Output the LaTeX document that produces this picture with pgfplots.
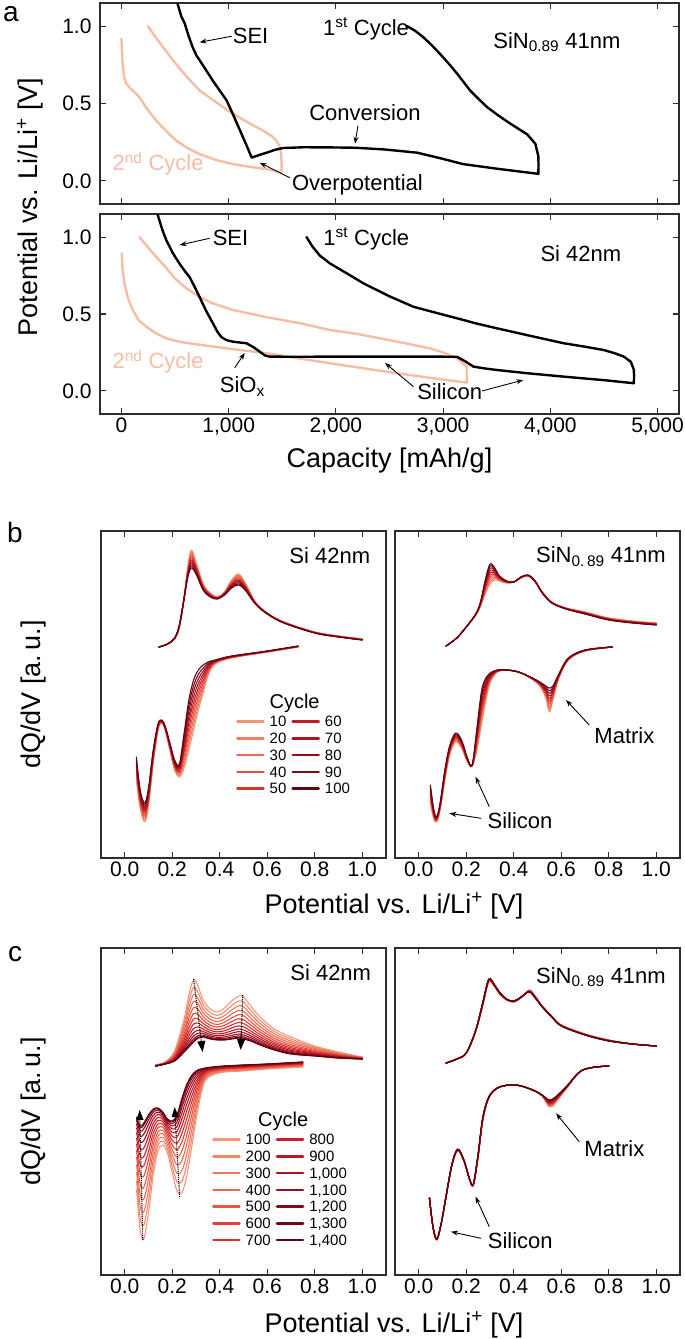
\documentclass[border=0pt]{standalone}
\usepackage{fontspec}
\setmainfont{Liberation Sans}
\usepackage{pgfplots}
\pgfplotsset{compat=1.18}
\usepackage{pgfplotstable}
\usetikzlibrary{arrows.meta}

\newcommand{\fs}[1]{\fontsize{#1}{#1}\selectfont}
\definecolor{frame}{RGB}{45,45,45}
\definecolor{sec}{RGB}{245,188,166}
% panel b colours (cycles 10..100)
\definecolor{bcol1}{RGB}{240,150,120}
\definecolor{bcol2}{RGB}{238,128,100}
\definecolor{bcol3}{RGB}{236,108,82}
\definecolor{bcol4}{RGB}{230,80,62}
\definecolor{bcol5}{RGB}{222,52,44}
\definecolor{bcol6}{RGB}{195,28,38}
\definecolor{bcol7}{RGB}{172,20,34}
\definecolor{bcol8}{RGB}{148,14,30}
\definecolor{bcol9}{RGB}{124,8,24}
\definecolor{bcol10}{RGB}{100,4,18}
% panel c colours (cycles 100..1400)
\definecolor{ccol1}{RGB}{242,152,122}
\definecolor{ccol2}{RGB}{240,136,108}
\definecolor{ccol3}{RGB}{238,120,94}
\definecolor{ccol4}{RGB}{235,104,80}
\definecolor{ccol5}{RGB}{232,86,66}
\definecolor{ccol6}{RGB}{226,66,54}
\definecolor{ccol7}{RGB}{218,46,44}
\definecolor{ccol8}{RGB}{200,32,40}
\definecolor{ccol9}{RGB}{185,24,36}
\definecolor{ccol10}{RGB}{168,18,33}
\definecolor{ccol11}{RGB}{150,14,30}
\definecolor{ccol12}{RGB}{132,10,26}
\definecolor{ccol13}{RGB}{114,6,22}
\definecolor{ccol14}{RGB}{95,2,16}

\tikzset{
  ann/.style={-{Stealth[length=7pt,width=5pt]}, line width=0.9pt, black},
  lab/.style={font=\fs{22}, inner sep=0pt},
}
\pgfplotsset{
  base/.style={scale only axis, axis line style={draw=frame, line width=1.1pt},
    tick style={draw=frame, line width=1.1pt}, major tick length=6pt, tick align=inside,
    tick label style={font=\fs{21}, text=black}, /pgf/number format/assume math mode=true,
    every axis plot/.append style={line join=round, line cap=round}},
  capax/.style={base, width=579pt, xmin=-200, xmax=5200, ymin=-0.15, ymax=1.15,
    xtick={0,1000,2000,3000,4000,5000}, ytick={0,0.5,1}, yticklabels={0.0,0.5,1.0},
    yticklabel style={xshift=-5pt}},
  dqax/.style={base, width=285pt, height=327pt, xmin=-0.1, xmax=1.1, ymin=0, ymax=327,
    xtick={0,0.2,0.4,0.6,0.8,1.0}, xticklabels={0.0,0.2,0.4,0.6,0.8,1.0}, ytick=\empty},
  leg/.style={transpose legend, legend cell align=left,
    legend image code/.code={\draw[##1, line width=2.6pt] (0pt,0pt) -- (26pt,0pt);},
    legend style={draw=none, fill=none, inner sep=0pt, font=\fs{15}, row sep=5.6pt,
      column sep=5pt,
      nodes={inner sep=0pt, text height=10.7pt, text depth=0.4pt}}},
}

% ---------- panel b data ----------
\pgfplotstableread{
V c1 c2 c3 c4 c5 c6 c7 c8 c9 c10
0.144 211 211 211 211 211 211 211 211 211 211
0.18 214 214 214 214 214 214 214 214 214 214
0.21 219 219.1 219.2 219.3 219.4 219.6 219.7 219.8 219.9 220
0.23 231 231.2 231.4 231.7 231.9 232.1 232.3 232.6 232.8 233
0.25 260 260 260 260 260 260 260 260 260 260
0.265 290 288.9 287.8 286.7 285.6 284.4 283.3 282.2 281.1 280
0.28 308 306 304 302 300 298 296 294 292 290
0.30 296 294.7 293.3 292 290.7 289.3 288 286.7 285.3 284
0.33 274 273.3 272.7 272 271.3 270.7 270 269.3 268.7 268
0.36 265 264.6 264.1 263.7 263.2 262.8 262.3 261.9 261.4 261
0.39 261 260.8 260.6 260.3 260.1 259.9 259.7 259.4 259.2 259
0.42 266 265.7 265.3 265 264.7 264.3 264 263.7 263.3 263
0.45 278 277.1 276.2 275.3 274.4 273.6 272.7 271.8 270.9 270
0.48 284 282.8 281.6 280.3 279.1 277.9 276.7 275.4 274.2 273
0.51 274 273.2 272.4 271.7 270.9 270.1 269.3 268.6 267.8 267
0.55 256 255.8 255.6 255.3 255.1 254.9 254.7 254.4 254.2 254
0.60 245 244.9 244.8 244.7 244.6 244.4 244.3 244.2 244.1 244
0.67 236 235.9 235.8 235.7 235.6 235.4 235.3 235.2 235.1 235
0.80 226 225.9 225.8 225.7 225.6 225.4 225.3 225.2 225.1 225
0.90 222 221.9 221.8 221.7 221.6 221.4 221.3 221.2 221.1 221
1.00 219 218.9 218.8 218.7 218.6 218.4 218.3 218.2 218.1 218
}\bLu
\pgfplotstableread{
V c1 c2 c3 c4 c5 c6 c7 c8 c9 c10
0.049 78 80.6 83.1 85.7 88.2 90.8 93.3 95.9 98.4 101
0.065 50 52 54 56 58 60 62 64 66 68
0.084 36 38.1 40.2 42.3 44.4 46.6 48.7 50.8 52.9 55
0.10 52 54 56 58 60 62 64 66 68 70
0.12 95 96.4 97.9 99.3 100.8 102.2 103.7 105.1 106.6 108
0.14 128 128.7 129.3 130 130.7 131.3 132 132.7 133.3 134
0.155 135 135.3 135.7 136 136.3 136.7 137 137.3 137.7 138
0.17 128 128.4 128.9 129.3 129.8 130.2 130.7 131.1 131.6 132
0.19 108 108.8 109.6 110.3 111.1 111.9 112.7 113.4 114.2 115
0.21 88 89.1 90.2 91.3 92.4 93.6 94.7 95.8 96.9 98
0.23 81 82.4 83.9 85.3 86.8 88.2 89.7 91.1 92.6 94
0.25 90 93.9 97.8 101.7 105.6 109.4 113.3 117.2 121.1 125
0.27 108 113.6 119.1 124.7 130.2 135.8 141.3 146.9 152.4 158
0.29 128 133.6 139.1 144.7 150.2 155.8 161.3 166.9 172.4 178
0.31 148 152.4 156.9 161.3 165.8 170.2 174.7 179.1 183.6 188
0.33 165 168.1 171.2 174.3 177.4 180.6 183.7 186.8 189.9 193
0.35 182 183.6 185.1 186.7 188.2 189.8 191.3 192.9 194.4 196
0.38 194 194.4 194.9 195.3 195.8 196.2 196.7 197.1 197.6 198
0.45 200 200.2 200.4 200.7 200.9 201.1 201.3 201.6 201.8 202
0.60 206 206.1 206.2 206.3 206.4 206.6 206.7 206.8 206.9 207
0.73 211 211.1 211.2 211.3 211.4 211.6 211.7 211.8 211.9 212
}\bLl
\pgfplotstableread{
V c1 c2 c3 c4 c5 c6 c7 c8 c9 c10
0.115 212 212 212 212 212 212 212 212 212 212
0.16 220 220 220 220 220 220 220 220 220 220
0.20 231 231 231 231 231 231 231 231 231 231
0.24 243 243.1 243.2 243.3 243.4 243.6 243.7 243.8 243.9 244
0.26 252 252.4 252.9 253.3 253.8 254.2 254.7 255.1 255.6 256
0.28 264 265.6 267.1 268.7 270.2 271.8 273.3 274.9 276.4 278
0.30 274 276.2 278.4 280.7 282.9 285.1 287.3 289.6 291.8 294
0.32 278 279.3 280.7 282 283.3 284.7 286 287.3 288.7 290
0.34 277 277.6 278.1 278.7 279.2 279.8 280.3 280.9 281.4 282
0.37 275 275.2 275.4 275.7 275.9 276.1 276.3 276.6 276.8 277
0.40 276 276 276 276 276 276 276 276 276 276
0.43 280 280.1 280.2 280.3 280.4 280.6 280.7 280.8 280.9 281
0.46 282 282.1 282.2 282.3 282.4 282.6 282.7 282.8 282.9 283
0.49 276 276.1 276.2 276.3 276.4 276.6 276.7 276.8 276.9 277
0.52 266 265.9 265.8 265.7 265.6 265.4 265.3 265.2 265.1 265
0.56 256 255.9 255.8 255.7 255.6 255.4 255.3 255.2 255.1 255
0.62 250 249.9 249.8 249.7 249.6 249.4 249.3 249.2 249.1 249
0.70 246 245.8 245.6 245.3 245.1 244.9 244.7 244.4 244.2 244
0.80 240 239.8 239.6 239.3 239.1 238.9 238.7 238.4 238.2 238
0.90 237 236.8 236.6 236.3 236.1 235.9 235.7 235.4 235.2 235
1.00 235 234.8 234.6 234.3 234.1 233.9 233.7 233.4 233.2 233
}\bRu
\pgfplotstableread{
V c1 c2 c3 c4 c5 c6 c7 c8 c9 c10
0.049 55 57 59 61 63 65 67 69 71 73
0.062 40 41.1 42.2 43.3 44.4 45.6 46.7 47.8 48.9 50
0.075 36 36.6 37.1 37.7 38.2 38.8 39.3 39.9 40.4 41
0.09 48 48.8 49.6 50.3 51.1 51.9 52.7 53.4 54.2 55
0.11 78 79.1 80.2 81.3 82.4 83.6 84.7 85.8 86.9 88
0.13 103 104 105 106 107 108 109 110 111 112
0.155 116 117 118 119 120 121 122 123 124 125
0.18 110 110.9 111.8 112.7 113.6 114.4 115.3 116.2 117.1 118
0.205 96 96.4 96.9 97.3 97.8 98.2 98.7 99.1 99.6 100
0.225 92 92.1 92.2 92.3 92.4 92.6 92.7 92.8 92.9 93
0.245 108 110.4 112.9 115.3 117.8 120.2 122.7 125.1 127.6 130
0.265 135 138.7 142.3 146 149.7 153.3 157 160.7 164.3 168
0.285 160 162.3 164.7 167 169.3 171.7 174 176.3 178.7 181
0.30 175 176.1 177.2 178.3 179.4 180.6 181.7 182.8 183.9 185
0.33 186 186.2 186.4 186.7 186.9 187.1 187.3 187.6 187.8 188
0.37 188 188 188 188 188 188 188 188 188 188
0.42 186 186 186 186 186 186 186 186 186 186
0.47 180 180.1 180.2 180.3 180.4 180.6 180.7 180.8 180.9 181
0.51 172 172.4 172.9 173.3 173.8 174.2 174.7 175.1 175.6 176
0.535 160 161.3 162.7 164 165.3 166.7 168 169.3 170.7 172
0.55 146 148.7 151.3 154 156.7 159.3 162 164.7 167.3 170
0.565 158 159.6 161.1 162.7 164.2 165.8 167.3 168.9 170.4 172
0.59 180 180.4 180.9 181.3 181.8 182.2 182.7 183.1 183.6 184
0.63 198 198.2 198.4 198.7 198.9 199.1 199.3 199.6 199.8 200
0.70 207 207.1 207.2 207.3 207.4 207.6 207.7 207.8 207.9 208
0.815 211 211 211 211 211 211 211 211 211 211
}\bRl

% ---------- panel c data ----------
\pgfplotstableread{
V c1 c2 c3 c4 c5 c6 c7 c8 c9 c10 c11 c12 c13 c14
0.13 210 210 210 210 210 209.5 209.5 209 209 209 209 209 209 209
0.17 213 212.8 212.5 212.3 212.1 211.9 211.7 211.6 211.4 211.3 211.2 211.1 211 211
0.21 224 222.8 221.7 220.6 219.5 218.6 217.7 216.9 216.2 215.5 215 214.5 214.2 214
0.25 256 252 248.3 244.7 241.3 238.1 235.2 232.6 230.2 228 226.2 224.6 223.6 223
0.27 280 273.8 267.8 262.2 256.9 251.9 247.3 243.1 239.3 235.9 233 230.6 228.9 228
0.29 295 287.6 280.5 273.7 267.4 261.5 256 251 246.5 242.4 239 236.1 234.1 233
0.31 288 281.9 276.1 270.5 265.3 260.4 255.9 251.8 248.1 244.8 241.9 239.5 237.9 237
0.33 275 270.6 266.3 262.3 258.5 255 251.7 248.7 246 243.6 241.6 239.8 238.6 238
0.36 266 262.4 259 255.7 252.6 249.8 247.1 244.7 242.5 240.6 238.9 237.5 236.5 236
0.39 263 259.6 256.4 253.4 250.5 247.9 245.4 243.1 241.1 239.3 237.7 236.4 235.5 235
0.42 267 263.2 259.5 256 252.8 249.7 246.9 244.3 241.9 239.9 238.1 236.6 235.5 235
0.45 274 269.4 265.1 261 257.1 253.4 250.1 247 244.2 241.8 239.6 237.9 236.6 236
0.48 279 274 269.2 264.6 260.3 256.3 252.6 249.2 246.1 243.4 241 239.1 237.7 237
0.50 278 273 268.2 263.6 259.3 255.3 251.6 248.2 245.1 242.4 240 238.1 236.7 236
0.53 269 264.8 260.8 257 253.4 250.1 247 244.1 241.6 239.3 237.4 235.7 234.6 234
0.57 258 254.6 251.4 248.4 245.5 242.9 240.4 238.1 236.1 234.3 232.7 231.4 230.5 230
0.63 246 243.5 241.1 238.8 236.7 234.6 232.8 231.1 229.6 228.2 227 226 225.4 225
0.70 238 236 234 232.2 230.4 228.8 227.3 225.9 224.7 223.6 222.6 221.8 221.3 221
0.80 229 227.8 226.7 225.6 224.5 223.6 222.7 221.9 221.2 220.5 220 219.5 219.2 219
0.90 223 222.3 221.6 220.9 220.3 219.8 219.2 218.7 218.3 217.9 217.6 217.3 217.1 217
1.00 218 217.8 217.5 217.3 217.1 216.9 216.7 216.6 216.4 216.3 216.2 216.1 216 216
}\cLu
\pgfplotstableread{
V c1 c2 c3 c4 c5 c6 c7 c8 c9 c10 c11 c12 c13 c14
0.05 85 93.8 102.1 110 117.5 124.5 130.9 136.8 142.2 146.9 151 154.4 156.8 158
0.065 45 57.5 69.3 80.7 91.3 101.3 110.4 118.8 126.4 133.2 139 143.8 147.2 149
0.08 36 49.9 63.1 75.8 87.6 98.8 109 118.4 126.8 134.4 140.9 146.2 150 152
0.10 62 73.8 84.9 95.6 105.6 115 123.6 131.6 138.7 145.1 150.6 155.1 158.3 160
0.12 100 107.9 115.4 122.6 129.4 135.7 141.5 146.9 151.7 156 159.7 162.7 164.9 166
0.14 124 129.2 134.1 138.7 143.1 147.3 151 154.5 157.7 160.5 162.9 164.9 166.3 167
0.16 130 134 137.7 141.3 144.7 147.9 150.8 153.4 155.8 158 159.8 161.4 162.4 163
0.18 122 126.1 130 133.7 137.1 140.4 143.4 146.1 148.6 150.8 152.7 154.3 155.4 156
0.20 102 108.2 114.2 119.8 125.1 130.1 134.7 138.9 142.7 146.1 149 151.4 153.1 154
0.22 84 93.1 101.8 110.1 117.8 125.1 131.8 138 143.5 148.4 152.7 156.2 158.7 160
0.24 82 93.3 104 114.2 123.8 132.9 141.1 148.7 155.6 161.7 167 171.3 174.4 176
0.26 98 109 119.5 129.6 138.9 147.8 155.9 163.3 170 176 181.2 185.4 188.4 190
0.28 125 133.9 142.3 150.4 157.9 165 171.5 177.5 182.9 187.8 191.9 195.3 197.7 199
0.30 155 160.9 166.5 171.8 176.8 181.5 185.8 189.8 193.4 196.6 199.3 201.6 203.2 204
0.32 180 183.1 186.1 188.9 191.6 194.1 196.4 198.5 200.4 202 203.5 204.7 205.6 206
0.34 195 196.4 197.8 199.1 200.3 201.5 202.5 203.5 204.4 205.2 205.8 206.4 206.8 207
0.37 200 201 201.9 202.7 203.6 204.3 205 205.7 206.3 206.8 207.2 207.6 207.9 208
0.42 203 203.7 204.4 205.1 205.7 206.2 206.8 207.3 207.7 208.1 208.4 208.7 208.9 209
0.50 204 204.7 205.4 206.1 206.7 207.2 207.8 208.3 208.7 209.1 209.4 209.7 209.9 210
0.60 206 206.6 207.2 207.7 208.2 208.7 209.1 209.6 209.9 210.2 210.5 210.8 210.9 211
0.75 208 208.6 209.2 209.7 210.2 210.7 211.1 211.6 211.9 212.2 212.5 212.8 212.9 213
}\cLl
\pgfplotstableread{
V c1 c2 c3 c4 c5 c6 c7 c8 c9 c10 c11 c12 c13 c14
0.115 212 212 212 212 212 212 212 212 212 212 212 212 212 212
0.16 216 216 216 216 216 216 216 216 216 216 216 216 216 216
0.20 222 222 222 222 222 222 222 222 222 222 222 222 222 222
0.24 244 244.1 244.2 244.2 244.3 244.4 244.5 244.5 244.6 244.7 244.8 244.8 244.9 245
0.27 270 270.2 270.5 270.7 270.9 271.2 271.4 271.6 271.8 272.1 272.3 272.5 272.8 273
0.295 293 293.2 293.5 293.7 293.9 294.2 294.4 294.6 294.8 295.1 295.3 295.5 295.8 296
0.32 288 288.2 288.3 288.5 288.6 288.8 288.9 289.1 289.2 289.4 289.5 289.7 289.8 290
0.34 281 281.2 281.3 281.5 281.6 281.8 281.9 282.1 282.2 282.4 282.5 282.7 282.8 283
0.37 275 275.1 275.2 275.2 275.3 275.4 275.5 275.5 275.6 275.7 275.8 275.8 275.9 276
0.40 273 273.1 273.2 273.2 273.3 273.4 273.5 273.5 273.6 273.7 273.8 273.8 273.9 274
0.43 277 277.1 277.2 277.2 277.3 277.4 277.5 277.5 277.6 277.7 277.8 277.8 277.9 278
0.465 285 284.8 284.7 284.5 284.4 284.2 284.1 283.9 283.8 283.6 283.5 283.3 283.2 283
0.49 279 278.8 278.7 278.5 278.4 278.2 278.1 277.9 277.8 277.6 277.5 277.3 277.2 277
0.52 269 268.9 268.8 268.8 268.7 268.6 268.5 268.5 268.4 268.3 268.2 268.2 268.1 268
0.56 259 258.9 258.8 258.8 258.7 258.6 258.5 258.5 258.4 258.3 258.2 258.2 258.1 258
0.60 250 249.9 249.8 249.8 249.7 249.6 249.5 249.5 249.4 249.3 249.2 249.2 249.1 249
0.70 241 240.9 240.8 240.8 240.7 240.6 240.5 240.5 240.4 240.3 240.2 240.2 240.1 240
0.80 235 234.9 234.8 234.8 234.7 234.6 234.5 234.5 234.4 234.3 234.2 234.2 234.1 234
0.90 231 231 231 231 231 231 231 231 231 231 231 231 231 231
1.00 229 229 229 229 229 229 229 229 229 229 229 229 229 229
}\cRu
\pgfplotstableread{
V c1 c2 c3 c4 c5 c6 c7 c8 c9 c10 c11 c12 c13 c14
0.045 77 77 77 77 77 77 77 77 77 77 77 77 77 77
0.06 48 48 48 48 48 48 48 48 48 48 48 48 48 48
0.076 35 35.1 35.2 35.2 35.3 35.4 35.5 35.5 35.6 35.7 35.8 35.8 35.9 36
0.095 52 52 52 52 52 52 52 52 52 52 52 52 52 52
0.115 78 78.1 78.2 78.2 78.3 78.4 78.5 78.5 78.6 78.7 78.8 78.8 78.9 79
0.14 110 110.1 110.2 110.2 110.3 110.4 110.5 110.5 110.6 110.7 110.8 110.8 110.9 111
0.164 124 124.2 124.3 124.5 124.6 124.8 124.9 125.1 125.2 125.4 125.5 125.7 125.8 126
0.19 114 114.1 114.2 114.2 114.3 114.4 114.5 114.5 114.6 114.7 114.8 114.8 114.9 115
0.215 95 95 95 95 95 95 95 95 95 95 95 95 95 95
0.23 90 90.1 90.2 90.2 90.3 90.4 90.5 90.5 90.6 90.7 90.8 90.8 90.9 91
0.25 118 118.2 118.5 118.7 118.9 119.2 119.4 119.6 119.8 120.1 120.3 120.5 120.8 121
0.27 155 155.2 155.5 155.7 155.9 156.2 156.4 156.6 156.8 157.1 157.3 157.5 157.8 158
0.297 178 178.1 178.2 178.2 178.3 178.4 178.5 178.5 178.6 178.7 178.8 178.8 178.9 179
0.34 188 188 188 188 188 188 188 188 188 188 188 188 188 188
0.41 190 190 190 190 190 190 190 190 190 190 190 190 190 190
0.48 185 185 185 185 185 185 185 185 185 185 185 185 185 185
0.52 179 179.1 179.2 179.2 179.3 179.4 179.5 179.5 179.6 179.7 179.8 179.8 179.9 180
0.55 168 168.5 169.1 169.6 170.2 170.7 171.2 171.8 172.3 172.8 173.4 173.9 174.5 175
0.575 172 172.5 172.9 173.4 173.8 174.3 174.8 175.2 175.7 176.2 176.6 177.1 177.5 178
0.62 186 186.2 186.3 186.5 186.6 186.8 186.9 187.1 187.2 187.4 187.5 187.7 187.8 188
0.69 205 205 205 205 205 205 205 205 205 205 205 205 205 205
0.80 209 209 209 209 209 209 209 209 209 209 209 209 209 209
}\cRl

\begin{document}
\begin{tikzpicture}
\useasboundingbox (0pt,0pt) rectangle (685pt,-1339pt);

% ================= panel a, top (SiN) =================
\begin{axis}[capax, at={(100pt,-3pt)}, anchor=north west, height=201pt, xticklabels={}]
\addplot[sec, line width=2.4pt] coordinates {(0,0.92) (8,0.78) (25,0.67) (44,0.63) (80,0.60) (120,0.575) (168,0.54) (250,0.455) (324,0.39) (420,0.32) (511,0.26) (620,0.21) (729,0.173) (880,0.135) (1040,0.108) (1200,0.09) (1355,0.075) (1450,0.062) (1492,0.054) (1494,0.10) (1490,0.18) (1470,0.23) (1445,0.26) (1400,0.29) (1321,0.325) (1200,0.37) (1040,0.433) (900,0.50) (729,0.584) (600,0.68) (480,0.78) (360,0.89) (246,1.0)};
\addplot[black, line width=2.4pt] coordinates {(500,1.20) (560,1.06) (589,1.02) (625,0.94) (664,0.864) (700,0.81) (729,0.78) (790,0.715) (850,0.65) (915,0.585) (981,0.52) (1040,0.43) (1103,0.33) (1160,0.24) (1215,0.15) (1290,0.168) (1355,0.182) (1430,0.20) (1505,0.212) (1700,0.217) (1944,0.216) (2178,0.214) (2450,0.203) (2757,0.182) (2980,0.145) (3187,0.108) (3505,0.078) (3888,0.045) (3890,0.10) (3888,0.16) (3860,0.24) (3785,0.30) (3626,0.37) (3520,0.42) (3411,0.476) (3330,0.53) (3252,0.584) (3131,0.693) (3050,0.76) (2972,0.82) (2890,0.88) (2813,0.93) (2740,0.97) (2664,1.0)};
\node[lab, anchor=base west] at (1037,0.89) {SEI};
\draw[ann] (1028,0.935) -- (729,0.896);
\node[lab, anchor=base west] at (1879,0.94) {1\textsuperscript{st} Cycle};
\node[lab, anchor=base west] at (3467,0.857) {SiN\textsubscript{0.89} 41nm};
\node[lab, anchor=base] at (2271,0.39) {Conversion};
\draw[ann] (2206,0.357) -- (2178,0.24);
\node[lab, anchor=base] at (2201,-0.065) {Overpotential};
\draw[ann] (1570,0.02) -- (1290,0.117);
\node[lab, anchor=base west, text=sec] at (-84,0.065) {2\textsuperscript{nd} Cycle};
\end{axis}

% ================= panel a, bottom (Si) =================
\begin{axis}[capax, at={(100pt,-214pt)}, anchor=north west, height=200pt,
  xticklabels={0,{1,000},{2,000},{3,000},{4,000},{5,000}}]
\addplot[sec, line width=2.4pt] coordinates {(3,0.894) (10,0.79) (28,0.70) (60,0.605) (106,0.526) (160,0.46) (231,0.418) (320,0.375) (418,0.342) (550,0.318) (729,0.30) (1000,0.275) (1352,0.245) (1650,0.212) (1944,0.18) (2250,0.148) (2567,0.115) (2900,0.083) (3221,0.054) (3223,0.10) (3221,0.157) (3128,0.212) (3000,0.25) (2879,0.277) (2500,0.33) (2200,0.37) (1944,0.396) (1664,0.44) (1350,0.48) (1040,0.526) (850,0.57) (729,0.61) (600,0.67) (500,0.73) (418,0.80) (300,0.89) (168,1.0)};
\addplot[black, line width=2.4pt] coordinates {(310,1.25) (339,1.143) (380,1.05) (418,0.98) (480,0.895) (542,0.827) (590,0.78) (636,0.74) (680,0.68) (729,0.61) (790,0.52) (853,0.44) (895,0.385) (932,0.35) (980,0.33) (1040,0.32) (1100,0.315) (1165,0.31) (1230,0.285) (1290,0.255) (1340,0.23) (1383,0.223) (1600,0.222) (2000,0.223) (2500,0.223) (2900,0.223) (3128,0.222) (3200,0.195) (3283,0.158) (3400,0.145) (3502,0.136) (3800,0.114) (4124,0.093) (4500,0.07) (4779,0.05) (4781,0.10) (4778,0.14) (4750,0.19) (4685,0.223) (4600,0.245) (4498,0.266) (4300,0.29) (4124,0.31) (3800,0.36) (3502,0.407) (3300,0.44) (3190,0.461) (2950,0.505) (2723,0.547) (2500,0.615) (2255,0.70) (2100,0.765) (1944,0.829) (1850,0.88) (1780,0.94) (1726,1.0)};
\node[lab, anchor=base west] at (850,0.948) {SEI};
\draw[ann] (822,0.992) -- (542,0.948);
\node[lab, anchor=base west] at (1881,0.948) {1\textsuperscript{st} Cycle};
\node[lab, anchor=base west] at (3907,0.84) {Si 42nm};
\node[lab, anchor=base west, text=sec] at (-84,0.143) {2\textsuperscript{nd} Cycle};
\node[lab, anchor=base west] at (916,-0.013) {SiO\textsubscript{x}};
\draw[ann] (1056,0.15) -- (1150,0.247);
\node[lab, anchor=base west] at (2757,-0.058) {Silicon};
\draw[ann] (2723,0.028) -- (2458,0.182);
\draw[ann] (3364,0.0) -- (3748,0.071);
\end{axis}

% ================= panel b, left (Si) =================
\begin{axis}[dqax, leg, legend columns=5, at={(101pt,-531pt)}, anchor=north west,
  legend style={at={(axis cs:0.468,142)}, anchor=north west}]
\pgfplotsinvokeforeach{1,...,10}{
  \addplot[smooth, tension=0.55, bcol#1, line width=1.1pt, forget plot] table[x=V, y=c#1] {\bLu};
  \addplot[smooth, tension=0.55, bcol#1, line width=1.1pt, forget plot] table[x=V, y=c#1] {\bLl};
}
\addlegendimage{bcol1}\addlegendentry{10\hspace{8pt}}
\addlegendimage{bcol2}\addlegendentry{20\hspace{8pt}}
\addlegendimage{bcol3}\addlegendentry{30\hspace{8pt}}
\addlegendimage{bcol4}\addlegendentry{40\hspace{8pt}}
\addlegendimage{bcol5}\addlegendentry{50\hspace{8pt}}
\addlegendimage{bcol6}\addlegendentry{60}
\addlegendimage{bcol7}\addlegendentry{70}
\addlegendimage{bcol8}\addlegendentry{80}
\addlegendimage{bcol9}\addlegendentry{90}
\addlegendimage{bcol10}\addlegendentry{100}
\node[lab, anchor=base east] at (1.034,294.7) {Si 42nm};
\node[font=\fs{20}, inner sep=0pt, anchor=base] at (0.715,150) {Cycle};
\end{axis}

% ================= panel b, right (SiN) =================
\begin{axis}[dqax, at={(395pt,-531pt)}, anchor=north west]
\pgfplotsinvokeforeach{1,...,10}{
  \addplot[smooth, tension=0.55, bcol#1, line width=1.1pt] table[x=V, y=c#1] {\bRu};
  \addplot[smooth, tension=0.55, bcol#1, line width=1.1pt] table[x=V, y=c#1] {\bRl};
}
\node[lab, anchor=base east] at (1.041,295.3) {SiN\textsubscript{0.\,89} 41nm};
\node[lab, anchor=base west] at (0.739,114.7) {Matrix};
\draw[ann] (0.718,133) -- (0.62,158);
\node[lab, anchor=base west] at (0.289,29.7) {Silicon};
\draw[ann] (0.262,39.7) -- (0.129,44.7);
\draw[ann] (0.297,51.3) -- (0.239,81.3);
\end{axis}

% ================= panel c, left (Si) =================
\begin{axis}[dqax, leg, legend columns=7, at={(101pt,-948pt)}, anchor=north west,
  legend style={at={(axis cs:0.367,141)}, anchor=north west}]
\pgfplotsinvokeforeach{1,...,14}{
  \addplot[smooth, tension=0.55, ccol#1, line width=1.1pt, forget plot] table[x=V, y=c#1] {\cLu};
  \addplot[smooth, tension=0.55, ccol#1, line width=1.1pt, forget plot] table[x=V, y=c#1] {\cLl};
}
\addlegendimage{ccol1}\addlegendentry{100\hspace{12pt}}
\addlegendimage{ccol2}\addlegendentry{200\hspace{12pt}}
\addlegendimage{ccol3}\addlegendentry{300\hspace{12pt}}
\addlegendimage{ccol4}\addlegendentry{400\hspace{12pt}}
\addlegendimage{ccol5}\addlegendentry{500\hspace{12pt}}
\addlegendimage{ccol6}\addlegendentry{600\hspace{12pt}}
\addlegendimage{ccol7}\addlegendentry{700\hspace{12pt}}
\addlegendimage{ccol8}\addlegendentry{800}
\addlegendimage{ccol9}\addlegendentry{900}
\addlegendimage{ccol10}\addlegendentry{1,000}
\addlegendimage{ccol11}\addlegendentry{1,100}
\addlegendimage{ccol12}\addlegendentry{1,200}
\addlegendimage{ccol13}\addlegendentry{1,300}
\addlegendimage{ccol14}\addlegendentry{1,400}
\draw[densely dotted, line width=1.1pt, -{Triangle[width=8pt,length=11pt]}] (0.290,296) -- (0.328,223);
\draw[densely dotted, line width=1.1pt, -{Triangle[width=8pt,length=11pt]}] (0.497,280) -- (0.488,225);
\draw[densely dotted, line width=1.1pt, -{Triangle[width=7pt,length=10pt]}] (0.076,35) -- (0.063,165);
\draw[densely dotted, line width=1.1pt, -{Triangle[width=7pt,length=10pt]}] (0.231,78) -- (0.21,168);
\node[lab, anchor=base east] at (1.038,294.3) {Si 42nm};
\node[font=\fs{20}, inner sep=0pt, anchor=base] at (0.667,149) {Cycle};
\end{axis}

% ================= panel c, right (SiN) =================
\begin{axis}[dqax, at={(395pt,-948pt)}, anchor=north west]
\pgfplotsinvokeforeach{1,...,14}{
  \addplot[smooth, tension=0.55, ccol#1, line width=1.1pt] table[x=V, y=c#1] {\cRu};
  \addplot[smooth, tension=0.55, ccol#1, line width=1.1pt] table[x=V, y=c#1] {\cRl};
}
\node[lab, anchor=base east] at (1.041,291.7) {SiN\textsubscript{0.\,89} 41nm};
\node[lab, anchor=base west] at (0.697,118.3) {Matrix};
\draw[ann] (0.676,133.3) -- (0.578,161.7);
\node[lab, anchor=base west] at (0.29,26.7) {Silicon};
\draw[ann] (0.262,36.7) -- (0.136,43.3);
\draw[ann] (0.297,48.3) -- (0.239,78.3);
\end{axis}

% ================= outer labels =================
\node[font=\fs{28}, inner sep=0pt, anchor=base west] at (3pt,-21pt) {a};
\node[font=\fs{28}, inner sep=0pt, anchor=base west] at (7pt,-542pt) {b};
\node[font=\fs{28}, inner sep=0pt, anchor=base west] at (8pt,-961pt) {c};
\node[font=\fs{27}, inner sep=0pt, anchor=base, rotate=90] at (37pt,-207pt) {Potential vs. Li/Li\textsuperscript{+} [V]};
\node[font=\fs{27}, inner sep=0pt, anchor=base] at (389.5pt,-467pt) {Capacity [mAh/g]};
\node[font=\fs{27}, inner sep=0pt, anchor=base, rotate=90] at (40pt,-694.5pt) {dQ/dV [a.\,u.]};
\node[font=\fs{27}, inner sep=0pt, anchor=base, rotate=90] at (40pt,-1111.5pt) {dQ/dV [a.\,u.]};
\node[font=\fs{27}, inner sep=0pt, anchor=base] at (394pt,-913pt) {Potential vs. Li/Li\textsuperscript{+} [V]};
\node[font=\fs{27}, inner sep=0pt, anchor=base] at (394pt,-1332pt) {Potential vs. Li/Li\textsuperscript{+} [V]};
\end{tikzpicture}
\end{document}
